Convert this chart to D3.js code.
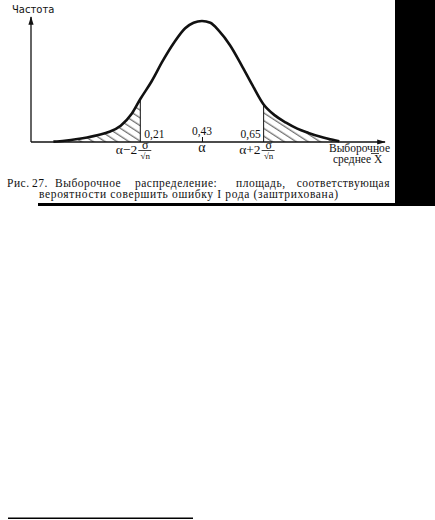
<!DOCTYPE html>
<html>
<head>
<meta charset="utf-8">
<script src="https://cdn.jsdelivr.net/npm/d3@7"></script>
<style>
  body { margin: 0; background: #fff; }
  svg { display: block; }
  text { font-family: "Liberation Serif", "DejaVu Serif", serif; fill: #111; }
</style>
</head>
<body>
<div id="chart"></div>
<script>
'use strict';

// sample mean values along the curve and relative frequency
var sampleX = [-0.10, -0.06, -0.02, 0.02, 0.06, 0.10, 0.14, 0.18, 0.21, 0.25, 0.29, 0.33, 0.37, 0.40,
  0.43, 0.46, 0.49, 0.53, 0.57, 0.61, 0.65, 0.69, 0.73, 0.77, 0.81, 0.85, 0.88, 0.92];
var freq = [0.003, 0.011, 0.022, 0.038, 0.058, 0.085, 0.135, 0.235, 0.355, 0.50, 0.67, 0.82, 0.94, 0.985,
  1.0, 0.985, 0.92, 0.80, 0.64, 0.47, 0.31, 0.22, 0.16, 0.11, 0.075, 0.045, 0.027, 0.006];

// critical points and their labels
var cutValues = [0.21, 0.43, 0.65];
var cutLabels = ['0,21', '0,43', '0,65'];

// caption words (first line is justified)
var captionWords = ['Рис.', '27.', 'Выборочное', 'распределение:', 'площадь,', 'соответствующая'];
var captionLine2 = 'вероятности совершить ошибку I рода (заштрихована)';

var width = 435, height = 520;

var svg = d3.select('#chart').append('svg')
    .attr('width', width)
    .attr('height', height);

var x = d3.scaleLinear().domain([-0.18, 1.083]).range([31, 385]);
var y = d3.scaleLinear().domain([0, 1.033]).range([142, 17]);

var pts = sampleX.map(function(d, i) { return {x: d, f: freq[i]}; });

var defs = svg.append('defs');
defs.append('marker')
    .attr('id', 'arr')
    .attr('viewBox', '0 0 10 6')
    .attr('refX', 9).attr('refY', 3)
    .attr('markerWidth', 7).attr('markerHeight', 4)
    .attr('orient', 'auto')
  .append('path')
    .attr('d', 'M0,0L10,3L0,6Z')
    .attr('fill', '#111');

// hatching for the rejection areas
defs.append('pattern')
    .attr('id', 'hatch')
    .attr('patternUnits', 'userSpaceOnUse')
    .attr('width', 20).attr('height', 6.5)
    .attr('patternTransform', 'rotate(33)')
  .append('line')
    .attr('x1', 0).attr('y1', 3).attr('x2', 20).attr('y2', 3)
    .attr('stroke', '#111').attr('stroke-width', 0.8);

var area = d3.area()
    .x(function(d) { return x(d.x); })
    .y0(y(0))
    .y1(function(d) { return y(d.f); })
    .curve(d3.curveMonotoneX);

svg.append('path')
    .datum(pts.filter(function(d) { return d.x <= cutValues[0]; }))
    .attr('d', area)
    .attr('fill', 'url(#hatch)');
svg.append('path')
    .datum(pts.filter(function(d) { return d.x >= cutValues[2]; }))
    .attr('d', area)
    .attr('fill', 'url(#hatch)');

// cut-off verticals
[0, 2].forEach(function(k) {
  var p = pts.filter(function(d) { return d.x === cutValues[k]; })[0];
  svg.append('line')
      .attr('x1', x(p.x)).attr('x2', x(p.x))
      .attr('y1', y(0)).attr('y2', y(p.f))
      .attr('stroke', '#111').attr('stroke-width', 1);
});

// axes
svg.append('line')
    .attr('x1', x.range()[0]).attr('y1', y(0))
    .attr('x2', x.range()[1]).attr('y2', y(0))
    .attr('stroke', '#111').attr('stroke-width', 1.3)
    .attr('marker-end', 'url(#arr)');
svg.append('line')
    .attr('x1', x.range()[0]).attr('y1', y(0))
    .attr('x2', x.range()[0]).attr('y2', y.range()[1])
    .attr('stroke', '#111').attr('stroke-width', 1.3)
    .attr('marker-end', 'url(#arr)');

var tickAxis = d3.axisTop(x).tickValues([cutValues[1]]).tickSize(5).tickFormat('');
var gt = svg.append('g').attr('transform', 'translate(0,' + y(0) + ')').call(tickAxis);
gt.select('.domain').remove();
gt.selectAll('line').attr('stroke', '#111');

// the curve
svg.append('path')
    .datum(pts)
    .attr('d', d3.line()
      .x(function(d) { return x(d.x); })
      .y(function(d) { return y(d.f); })
      .curve(d3.curveMonotoneX))
    .attr('fill', 'none')
    .attr('stroke', '#111')
    .attr('stroke-width', 2.6)
    .attr('stroke-linejoin', 'round');

// value labels above the axis
svg.selectAll('text.cut')
    .data(cutValues)
    .enter().append('text')
    .attr('class', 'cut')
    .attr('x', function(d, i) { return i === 0 ? x(d) + 4 : (i === 1 ? x(d) : x(d) - 3); })
    .attr('y', function(d, i) { return i === 1 ? 135 : 137.5; })
    .attr('text-anchor', function(d, i) { return ['start', 'middle', 'end'][i]; })
    .attr('font-size', 11.5)
    .text(function(d, i) { return cutLabels[i]; });

// formulas below the axis
svg.append('text')
    .attr('x', x(cutValues[1])).attr('y', 152)
    .attr('text-anchor', 'middle')
    .attr('font-size', 14)
    .text('α');

function formula(cx, sign) {
  var g = svg.append('g');
  g.append('text')
      .attr('x', cx - 3).attr('y', 154)
      .attr('text-anchor', 'end')
      .attr('font-size', 13.5)
      .text('α' + sign + '2');
  g.append('text')
      .attr('x', cx + 5).attr('y', 149)
      .attr('text-anchor', 'middle')
      .attr('font-size', 12)
      .text('σ');
  g.append('line')
      .attr('x1', cx - 2).attr('x2', cx + 11)
      .attr('y1', 150.5).attr('y2', 150.5)
      .attr('stroke', '#111').attr('stroke-width', 0.8);
  g.append('text')
      .attr('x', cx + 5).attr('y', 158.5)
      .attr('text-anchor', 'middle')
      .attr('font-size', 9)
      .text('√n');
}
formula(x(cutValues[0]), '−');
formula(x(cutValues[2]), '+');

svg.append('text')
    .attr('x', 329).attr('y', 152)
    .attr('font-size', 11.5)
    .attr('textLength', 61)
    .attr('lengthAdjust', 'spacing')
    .text('Выборочное');
svg.append('text')
    .attr('x', 333).attr('y', 163)
    .attr('font-size', 11.5)
    .text('среднее X');
svg.append('line')
    .attr('x1', 371).attr('x2', 379)
    .attr('y1', 153.5).attr('y2', 153.5)
    .attr('stroke', '#111').attr('stroke-width', 0.8);

svg.append('text')
    .attr('x', 12).attr('y', 13)
    .attr('font-size', 10)
    .style('font-family', '"DejaVu Sans", sans-serif')
    .text('Частота');

// caption
var wordX = [7, 32, 55, 135, 236, 390];
svg.selectAll('text.cap')
    .data(captionWords)
    .enter().append('text')
    .attr('class', 'cap')
    .attr('x', function(d, i) { return wordX[i]; })
    .attr('y', 187)
    .attr('font-size', 11.5)
    .attr('letter-spacing', 0.5)
    .attr('text-anchor', function(d, i) { return i === captionWords.length - 1 ? 'end' : 'start'; })
    .text(function(d) { return d; });
svg.append('text')
    .attr('x', 39).attr('y', 197.5)
    .attr('font-size', 11.5)
    .attr('textLength', 299)
    .attr('lengthAdjust', 'spacing')
    .text(captionLine2);

// page edge (scan artefacts)
svg.append('rect')
    .attr('x', 395).attr('y', 0).attr('width', 40).attr('height', 206)
    .attr('fill', '#000');
svg.append('rect')
    .attr('x', 38).attr('y', 203).attr('width', 360).attr('height', 3)
    .attr('fill', '#000');
svg.append('rect')
    .attr('x', 8).attr('y', 517.5).attr('width', 185).attr('height', 1.5)
    .attr('fill', '#000');
</script>
</body>
</html>
